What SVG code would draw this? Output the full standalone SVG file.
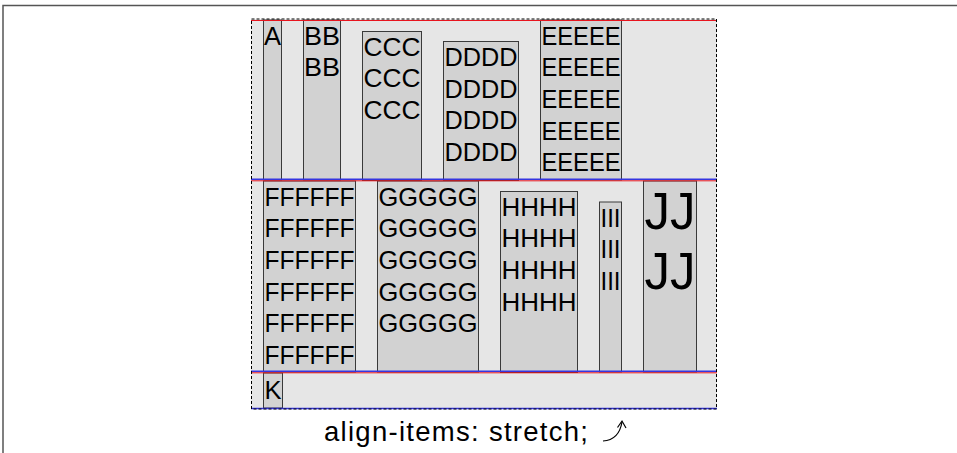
<svg xmlns="http://www.w3.org/2000/svg" width="957" height="453" viewBox="0 0 957 453">
<style>
.box{fill:#d2d2d2;stroke:#3a3a3a;stroke-width:1}
.t{font-family:"Liberation Sans",Arial,sans-serif;font-size:26px;fill:#000}
.tj{font-family:"Liberation Sans",Arial,sans-serif;font-size:51px;fill:#000}
.cap{font-family:"Liberation Sans",Arial,sans-serif;font-size:27.5px;fill:#000}
.red{stroke:#e8141e;stroke-width:1}
.blue{stroke:#3535e0;stroke-width:1.4}
</style>
<rect width="957" height="453" fill="#ffffff"/>
<path d="M3 453 V5.5 H957" fill="none" stroke="#555" stroke-width="1.5"/>
<g id="container">
<rect x="251" y="19" width="466" height="390" fill="#e6e6e6"/>
</g>
<g id="A"><rect class="box" x="263.5" y="20" width="18" height="160"/><text class="t" x="264" y="44.5" textLength="17" lengthAdjust="spacingAndGlyphs">A</text></g>
<g id="B"><rect class="box" x="303.5" y="20" width="37" height="160"/><text class="t" x="304" y="44.5" textLength="36" lengthAdjust="spacingAndGlyphs">BB</text><text class="t" x="304" y="76.2" textLength="36" lengthAdjust="spacingAndGlyphs">BB</text></g>
<g id="C"><rect class="box" x="362.5" y="31.5" width="59" height="149"/><text class="t" x="363.5" y="55.5" textLength="57" lengthAdjust="spacingAndGlyphs">CCC</text><text class="t" x="363.5" y="87.2" textLength="57" lengthAdjust="spacingAndGlyphs">CCC</text><text class="t" x="363.5" y="118.9" textLength="57" lengthAdjust="spacingAndGlyphs">CCC</text></g>
<g id="D"><rect class="box" x="443.5" y="41.5" width="75" height="139"/><text class="t" x="444.5" y="66" textLength="73" lengthAdjust="spacingAndGlyphs">DDDD</text><text class="t" x="444.5" y="97.7" textLength="73" lengthAdjust="spacingAndGlyphs">DDDD</text><text class="t" x="444.5" y="129.4" textLength="73" lengthAdjust="spacingAndGlyphs">DDDD</text><text class="t" x="444.5" y="161.1" textLength="73" lengthAdjust="spacingAndGlyphs">DDDD</text></g>
<g id="E"><rect class="box" x="540.5" y="20" width="81" height="160"/><text class="t" x="541.5" y="44.5" textLength="79" lengthAdjust="spacingAndGlyphs">EEEEE</text><text class="t" x="541.5" y="76.2" textLength="79" lengthAdjust="spacingAndGlyphs">EEEEE</text><text class="t" x="541.5" y="107.9" textLength="79" lengthAdjust="spacingAndGlyphs">EEEEE</text><text class="t" x="541.5" y="139.6" textLength="79" lengthAdjust="spacingAndGlyphs">EEEEE</text><text class="t" x="541.5" y="171.3" textLength="79" lengthAdjust="spacingAndGlyphs">EEEEE</text></g>
<g id="F"><rect class="box" x="263.5" y="181" width="92" height="191"/><text class="t" x="264.5" y="205.5" textLength="90" lengthAdjust="spacingAndGlyphs">FFFFFF</text><text class="t" x="264.5" y="237.2" textLength="90" lengthAdjust="spacingAndGlyphs">FFFFFF</text><text class="t" x="264.5" y="268.9" textLength="90" lengthAdjust="spacingAndGlyphs">FFFFFF</text><text class="t" x="264.5" y="300.6" textLength="90" lengthAdjust="spacingAndGlyphs">FFFFFF</text><text class="t" x="264.5" y="332.3" textLength="90" lengthAdjust="spacingAndGlyphs">FFFFFF</text><text class="t" x="264.5" y="364" textLength="90" lengthAdjust="spacingAndGlyphs">FFFFFF</text></g>
<g id="G"><rect class="box" x="377.5" y="181" width="101" height="191"/><text class="t" x="378.5" y="205.5" textLength="99" lengthAdjust="spacingAndGlyphs">GGGGG</text><text class="t" x="378.5" y="237.2" textLength="99" lengthAdjust="spacingAndGlyphs">GGGGG</text><text class="t" x="378.5" y="268.9" textLength="99" lengthAdjust="spacingAndGlyphs">GGGGG</text><text class="t" x="378.5" y="300.6" textLength="99" lengthAdjust="spacingAndGlyphs">GGGGG</text><text class="t" x="378.5" y="332.3" textLength="99" lengthAdjust="spacingAndGlyphs">GGGGG</text></g>
<g id="H"><rect class="box" x="500.5" y="191.5" width="77" height="181"/><text class="t" x="501.5" y="215.5" textLength="75" lengthAdjust="spacingAndGlyphs">HHHH</text><text class="t" x="501.5" y="247.2" textLength="75" lengthAdjust="spacingAndGlyphs">HHHH</text><text class="t" x="501.5" y="278.9" textLength="75" lengthAdjust="spacingAndGlyphs">HHHH</text><text class="t" x="501.5" y="310.6" textLength="75" lengthAdjust="spacingAndGlyphs">HHHH</text></g>
<g id="I"><rect class="box" x="599.5" y="202" width="22" height="170"/><text class="t" x="600.5" y="226.5" textLength="20" lengthAdjust="spacingAndGlyphs">III</text><text class="t" x="600.5" y="258.2" textLength="20" lengthAdjust="spacingAndGlyphs">III</text><text class="t" x="600.5" y="289.9" textLength="20" lengthAdjust="spacingAndGlyphs">III</text></g>
<g id="J"><rect class="box" x="643.5" y="181" width="53" height="191"/><text class="tj" x="644.5" y="228.5" textLength="51" lengthAdjust="spacingAndGlyphs">JJ</text><text class="tj" x="644.5" y="288.5" textLength="51" lengthAdjust="spacingAndGlyphs">JJ</text></g>
<g id="K"><rect class="box" x="263.5" y="373" width="19" height="35"/><text class="t" x="264.5" y="399" textLength="17" lengthAdjust="spacingAndGlyphs">K</text></g>
<g id="connectors">
<line class="red" x1="251" y1="20.5" x2="717" y2="20.5"/>
<line class="blue" x1="251" y1="179.3" x2="717" y2="179.3"/>
<line class="red" x1="251" y1="180.8" x2="717" y2="180.8"/>
<line class="blue" x1="251" y1="371.3" x2="717" y2="371.3"/>
<line class="red" x1="251" y1="372.8" x2="717" y2="372.8"/>
<line class="blue" x1="251" y1="408.5" x2="717" y2="408.5"/>
<rect x="251.5" y="19" width="465" height="390" fill="none" stroke="#000" stroke-width="1" stroke-dasharray="3 2"/>
<path d="M603 441 Q619 440 622 422" fill="none" stroke="#000" stroke-width="1.2"/>
<path d="M617.5 427.5 L622 421 L626 428" fill="none" stroke="#000" stroke-width="1.2"/>
</g>
<text class="cap" x="324" y="441" textLength="264">align-items: stretch;</text>
</svg>
